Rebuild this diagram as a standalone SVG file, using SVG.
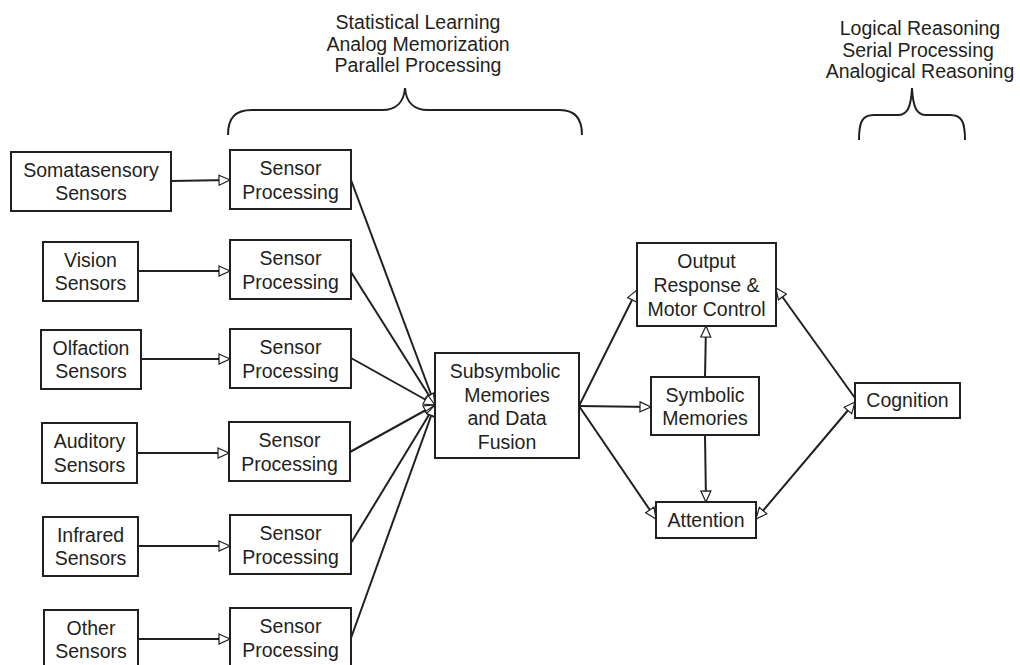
<svg xmlns="http://www.w3.org/2000/svg" width="1020" height="665" viewBox="0 0 1020 665">
<style>
.box{fill:#fff;stroke:#231f20;stroke-width:2}
.t{font-family:"Liberation Sans",Arial,sans-serif;font-size:19.5px;fill:#231f20;text-anchor:middle}
.c{fill:none;stroke:#231f20;stroke-width:2}
.br{fill:none;stroke:#231f20;stroke-width:2}
</style>
<defs>
<marker id="ah" markerUnits="userSpaceOnUse" markerWidth="14" markerHeight="12" refX="11" refY="5" orient="auto-start-reverse" viewBox="-1 -1 14 12">
<path d="M0,0 L11,5 L0,10 Z" fill="#fff" stroke="#231f20" stroke-width="1.2"/>
</marker>
</defs>
<rect width="1020" height="665" fill="#fff"/>
<g id="labels">
<text class="t" x="418" y="29">Statistical Learning</text>
<text class="t" x="418" y="50.5">Analog Memorization</text>
<text class="t" x="418" y="72">Parallel Processing</text>
<path class="br" d="M228,135 C228,118 235,110 252,110 L382,110 C396,110 404,102 405,88 C406,102 414,110 428,110 L560,110 C575,110 582,118 582,135"/>
<text class="t" x="920" y="35">Logical Reasoning</text>
<text class="t" x="918" y="56.5">Serial Processing</text>
<text class="t" x="920" y="78">Analogical Reasoning</text>
<path class="br" d="M859,140 C859,122 862,115 874,115 L898,115 C907,115 911,108 912,88 C913,108 917,115 926,115 L950,115 C962,115 965,122 965,140"/>
</g>
<g id="connectors">
<line class="c" x1="171" y1="181" x2="230" y2="180" marker-end="url(#ah)"/>
<line class="c" x1="138" y1="271" x2="230" y2="271" marker-end="url(#ah)"/>
<line class="c" x1="141" y1="359" x2="230" y2="359" marker-end="url(#ah)"/>
<line class="c" x1="137" y1="453" x2="229" y2="453" marker-end="url(#ah)"/>
<line class="c" x1="138" y1="546" x2="230" y2="546" marker-end="url(#ah)"/>
<line class="c" x1="138" y1="639" x2="230" y2="639" marker-end="url(#ah)"/>
<line class="c" x1="351" y1="180" x2="435" y2="405" marker-end="url(#ah)"/>
<line class="c" x1="351" y1="272" x2="435" y2="405" marker-end="url(#ah)"/>
<line class="c" x1="351" y1="358" x2="435" y2="405" marker-end="url(#ah)"/>
<line class="c" x1="350" y1="452" x2="435" y2="405" marker-end="url(#ah)"/>
<line class="c" x1="351" y1="543" x2="435" y2="405" marker-end="url(#ah)"/>
<line class="c" x1="351" y1="638" x2="435" y2="405" marker-end="url(#ah)"/>
<line class="c" x1="579" y1="406" x2="637" y2="290" marker-end="url(#ah)"/>
<line class="c" x1="579" y1="406" x2="651" y2="407" marker-end="url(#ah)"/>
<line class="c" x1="579" y1="406" x2="656" y2="519" marker-end="url(#ah)"/>
<line class="c" x1="705" y1="377" x2="706" y2="326" marker-end="url(#ah)"/>
<line class="c" x1="705" y1="435" x2="706" y2="502" marker-end="url(#ah)"/>
<line class="c" x1="855" y1="398" x2="776" y2="288" marker-end="url(#ah)"/>
<line class="c" x1="855" y1="402" x2="756" y2="519" marker-start="url(#ah)" marker-end="url(#ah)"/>
</g>
<g id="somatasensory">
<rect class="box" x="11" y="152" width="160" height="59"/>
<text class="t" x="91" y="177">Somatasensory</text>
<text class="t" x="91" y="200">Sensors</text>
</g>
<g id="vision">
<rect class="box" x="43" y="242" width="95" height="59"/>
<text class="t" x="90.5" y="267">Vision</text>
<text class="t" x="90.5" y="290">Sensors</text>
</g>
<g id="olfaction">
<rect class="box" x="41" y="330" width="100" height="59"/>
<text class="t" x="91" y="355">Olfaction</text>
<text class="t" x="91" y="378">Sensors</text>
</g>
<g id="auditory">
<rect class="box" x="42" y="423" width="95" height="60"/>
<text class="t" x="89.5" y="448">Auditory</text>
<text class="t" x="89.5" y="472">Sensors</text>
</g>
<g id="infrared">
<rect class="box" x="43" y="517" width="95" height="59"/>
<text class="t" x="90.5" y="542">Infrared</text>
<text class="t" x="90.5" y="565">Sensors</text>
</g>
<g id="other">
<rect class="box" x="44" y="610" width="94" height="60"/>
<text class="t" x="91" y="635">Other</text>
<text class="t" x="91" y="658">Sensors</text>
</g>
<g id="sp1">
<rect class="box" x="230" y="150" width="121" height="59"/>
<text class="t" x="290.5" y="175">Sensor</text>
<text class="t" x="290.5" y="199">Processing</text>
</g>
<g id="sp2">
<rect class="box" x="230" y="240" width="121" height="59"/>
<text class="t" x="290.5" y="265">Sensor</text>
<text class="t" x="290.5" y="289">Processing</text>
</g>
<g id="sp3">
<rect class="box" x="230" y="329" width="121" height="59"/>
<text class="t" x="290.5" y="354">Sensor</text>
<text class="t" x="290.5" y="378">Processing</text>
</g>
<g id="sp4">
<rect class="box" x="229" y="422" width="121" height="59"/>
<text class="t" x="289.5" y="447">Sensor</text>
<text class="t" x="289.5" y="471">Processing</text>
</g>
<g id="sp5">
<rect class="box" x="230" y="515" width="121" height="59"/>
<text class="t" x="290.5" y="540">Sensor</text>
<text class="t" x="290.5" y="564">Processing</text>
</g>
<g id="sp6">
<rect class="box" x="230" y="608" width="121" height="60"/>
<text class="t" x="290.5" y="633">Sensor</text>
<text class="t" x="290.5" y="657">Processing</text>
</g>
<g id="subsymbolic">
<rect class="box" x="435" y="353" width="144" height="105"/>
<text class="t" x="505" y="378">Subsymbolic</text>
<text class="t" x="507" y="401.5">Memories</text>
<text class="t" x="507" y="425">and Data</text>
<text class="t" x="507" y="448.5">Fusion</text>
</g>
<g id="output">
<rect class="box" x="637" y="243" width="139" height="83"/>
<text class="t" x="706.5" y="268">Output</text>
<text class="t" x="706.5" y="292">Response &amp;</text>
<text class="t" x="706.5" y="316">Motor Control</text>
</g>
<g id="symbolic">
<rect class="box" x="651" y="377" width="108" height="58"/>
<text class="t" x="705" y="402">Symbolic</text>
<text class="t" x="705" y="425">Memories</text>
</g>
<g id="attention">
<rect class="box" x="656" y="502" width="100" height="36"/>
<text class="t" x="706" y="527">Attention</text>
</g>
<g id="cognition">
<rect class="box" x="855" y="383" width="105" height="35"/>
<text class="t" x="907.5" y="407">Cognition</text>
</g>
</svg>
